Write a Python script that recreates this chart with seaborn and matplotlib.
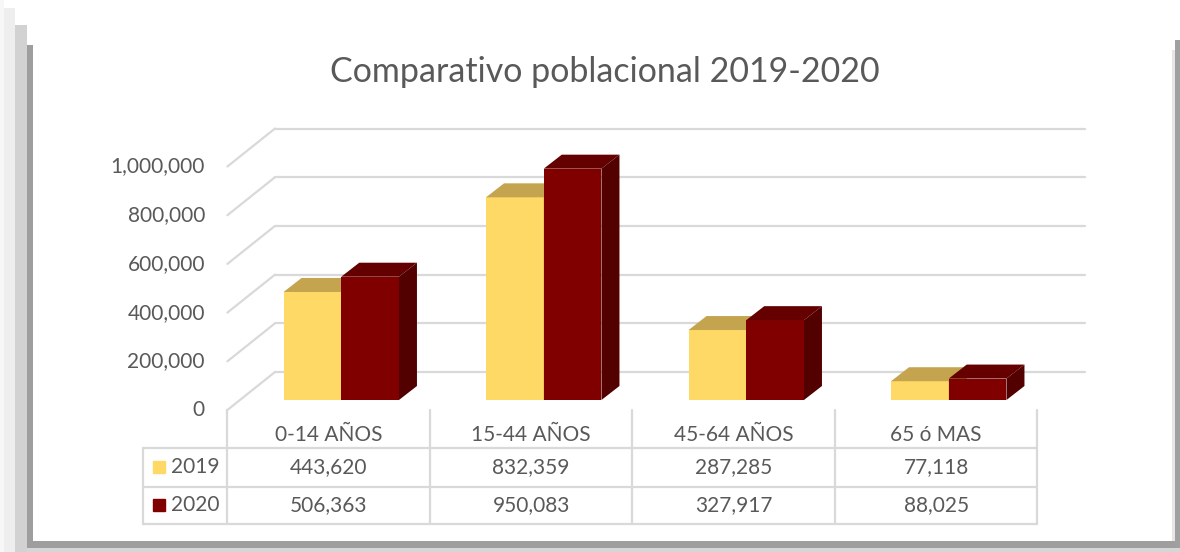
import numpy as np
import pandas as pd
import matplotlib
matplotlib.use("Agg")
import matplotlib.pyplot as plt
from matplotlib.patches import Polygon, Rectangle
import seaborn as sns

# datos del grafico
grupos = ["0-14 AÑOS", "15-44 AÑOS", "45-64 AÑOS", "65 ó MAS"]
anios = ["2019", "2020"]
pob_2019 = [443620, 832359, 287285, 77118]
pob_2020 = [506363, 950083, 327917, 88025]
yticks = [0, 200000, 400000, 600000, 800000, 1000000]

colores = {"2019": "#FFD966", "2020": "#800000"}
techo = {"2019": "#C4A44E", "2020": "#640000"}
lado = {"2019": "#B89A45", "2020": "#520000"}

df = pd.DataFrame({
    "grupo": grupos * 2,
    "anio": ["2019"] * len(grupos) + ["2020"] * len(grupos),
    "poblacion": pob_2019 + pob_2020,
})

W, H = 1180, 552
CAT_PX = 202.5   # pixels per category
VAL_PX = 4107.0  # population per pixel
gris = "#595959"
linea = "#d9d9d9"


def dx(px):
    return px / CAT_PX


def dy(px):
    return px * VAL_PX


sns.set_style("white")
plt.rcParams["font.family"] = ["Lato", "DejaVu Sans"]

fig = plt.figure(figsize=(W / 100, H / 100), dpi=100)
ax = fig.add_axes([0, 0, 1, 1])
sns.barplot(data=df, x="grupo", y="poblacion", hue="anio", hue_order=anios,
            palette=colores, width=0.57, saturation=1, legend=False, ax=ax)
ax.set_xlim(-0.5 - dx(240), -0.5 + dx(W - 240))
ax.set_ylim(-dy(H - 400), dy(400))
ax.axis("off")

# offsets de profundidad (3D falso)
fx, fy = dx(-12.6), dy(-10)   # plano frontal
bx, by = dx(35), dy(28)       # pared del fondo
px_, py_ = dx(18), dy(14)     # profundidad de barra

# rejilla
for v in yticks:
    ax.plot([-0.5 + bx, len(grupos) - 0.5 + bx], [v + by, v + by],
            color=linea, lw=1.6, zorder=1)
    ax.plot([-0.5 + fx, -0.5 + bx], [v + fy, v + by], color=linea, lw=1.6, zorder=1)
    ax.text(-0.5 + dx(-35), v + fy, f"{v:,}", ha="right", va="center",
            fontsize=15, color=gris)

# caras superiores y laterales
n = len(grupos)
for i, p in enumerate(ax.patches):
    anio = anios[i // n]
    z = 3 + i // n
    p.set_zorder(z)
    p.set_edgecolor("none")
    x0, w, h = p.get_x(), p.get_width(), p.get_height()
    top = [(x0, h), (x0 + w, h), (x0 + w + px_, h + py_), (x0 + px_, h + py_)]
    side = [(x0 + w, 0), (x0 + w + px_, py_), (x0 + w + px_, h + py_), (x0 + w, h)]
    ax.add_patch(Polygon(top, closed=True, facecolor=techo[anio], edgecolor="none", zorder=z))
    ax.add_patch(Polygon(side, closed=True, facecolor=lado[anio], edgecolor="none", zorder=z))

# tabla de datos
xs = [i - 0.5 + fx for i in range(n + 1)]
x_left = -0.5 + dx(143 - 240)
y_top, y1, y2, y3 = fy, dy(-48), dy(-87), dy(-124)
for x in xs:
    ax.plot([x, x], [y_top, y3], color=linea, lw=1.6, zorder=1)
ax.plot([x_left, x_left], [y1, y3], color=linea, lw=1.6, zorder=1)
for y in (y1, y2, y3):
    ax.plot([x_left, xs[-1]], [y, y], color=linea, lw=1.6, zorder=1)

for i, g in enumerate(grupos):
    cx = xs[i] + 0.5
    ax.text(cx, dy(-35), g, ha="center", va="center", fontsize=15, color=gris)
    ax.text(cx, dy(-67), f"{pob_2019[i]:,}", ha="center", va="center", fontsize=15, color=gris)
    ax.text(cx, dy(-105), f"{pob_2020[i]:,}", ha="center", va="center", fontsize=15, color=gris)

for anio, yr in zip(anios, (dy(-67), dy(-105))):
    ax.plot([-0.5 + dx(159 - 240)], [yr], marker="s", markersize=9,
            color=colores[anio], zorder=3)
    ax.text(-0.5 + dx(171 - 240), yr, anio, ha="left", va="center", fontsize=15, color=gris)

# titulo
fig.text(605 / W, 1 - 72 / H, "Comparativo poblacional 2019-2020", ha="center",
         va="center", fontsize=24.5, color=gris)


# marco con sombra
def rect(x, y, w, h, c):
    fig.patches.append(Rectangle((x / W, 1 - (y + h) / H), w / W, h / H,
                                 transform=fig.transFigure, facecolor=c,
                                 edgecolor="none", zorder=0))


rect(0, 0, 4, H, "#f7f7f7")
rect(4, 8, 11, H - 8, "#eeeeee")
rect(15, 25, 12, H - 25, "#d2d2d2")
rect(27, 45, 6, 503, "#9e9e9e")
rect(27, 541, 1148, 7, "#9e9e9e")
rect(27, 548, 1153, 4, "#d6d6d6")
rect(1175, 40, 5, 508, "#a0a0a0")
rect(1172, 50, 3, 491, "#e6e6e6")

fig.savefig("out.png", dpi=100)
